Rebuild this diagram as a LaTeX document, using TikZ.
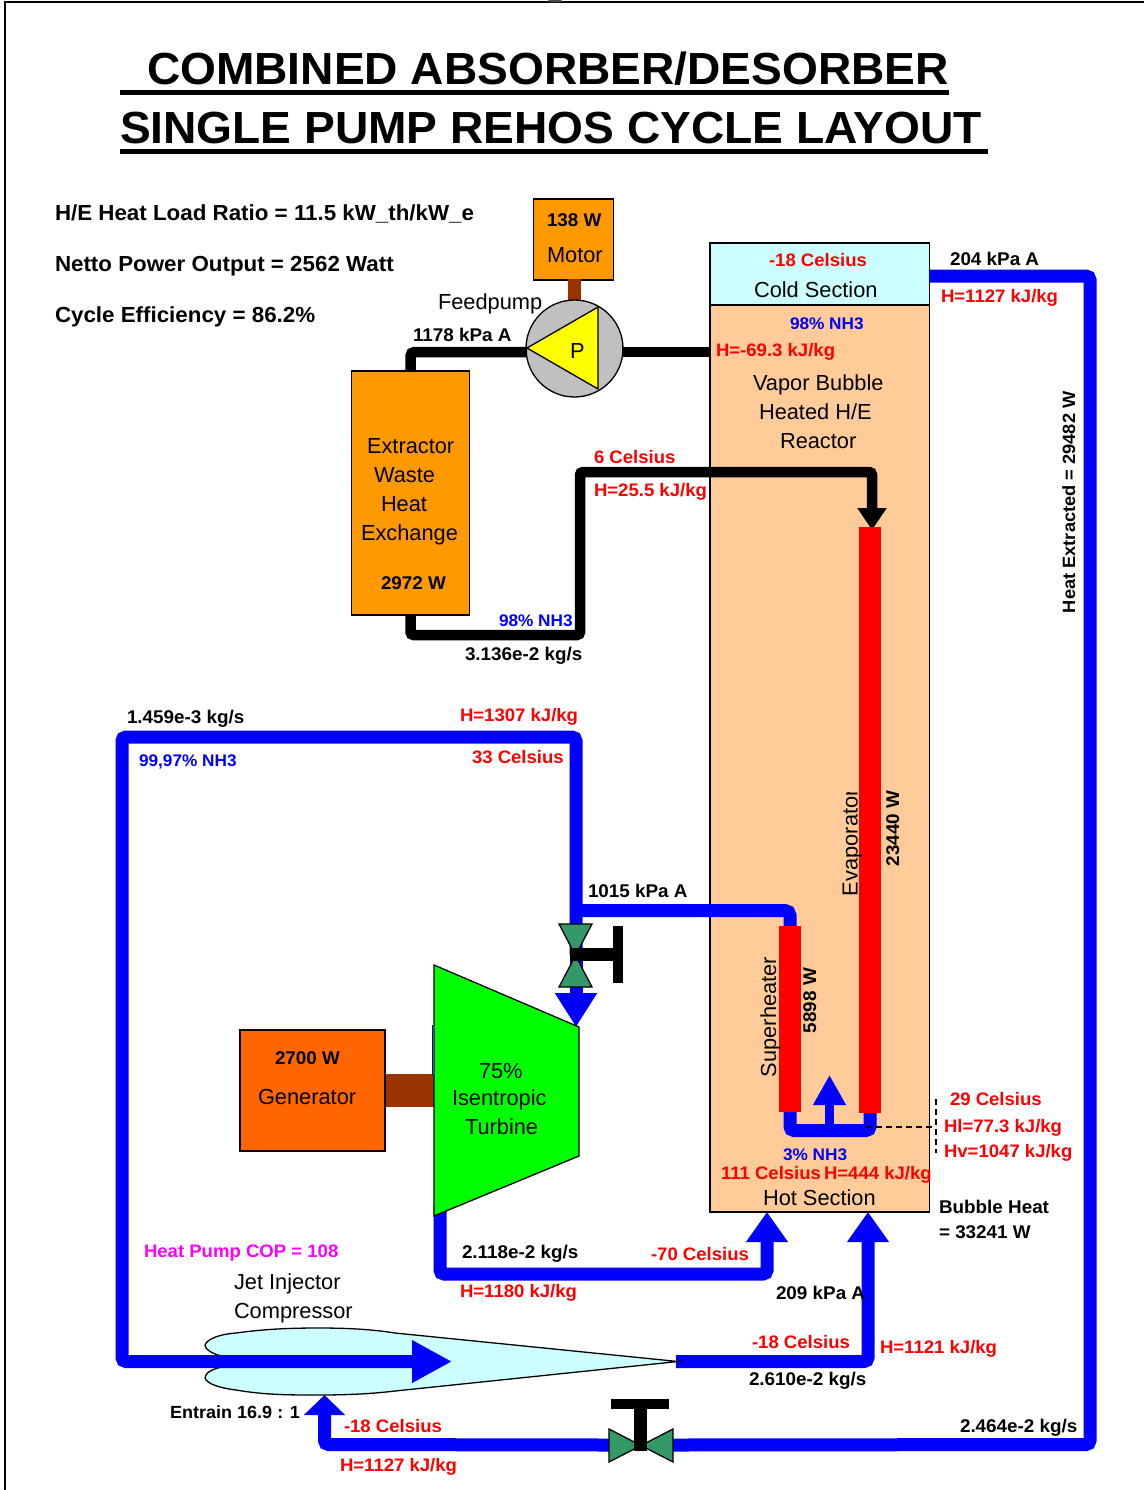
\documentclass[tikz,border=0pt]{standalone}
\usepackage{fontspec}
\setmainfont{Liberation Sans}[BoldFeatures={FakeStretch=1.025}]
\usetikzlibrary{arrows.meta}
\definecolor{coldc}{HTML}{CCFFFF}
\definecolor{hotc}{HTML}{FFCC99}
\definecolor{orng}{HTML}{FF9900}
\definecolor{gen}{HTML}{FF6600}
\definecolor{shaft}{HTML}{993300}
\definecolor{valv}{HTML}{339966}
\definecolor{pblue}{HTML}{0000FF}
\definecolor{pred}{HTML}{FF0000}
\definecolor{pmag}{HTML}{FF00FF}
\definecolor{pyel}{HTML}{FFFF00}
\definecolor{pgrn}{HTML}{00FF00}
\definecolor{pgry}{HTML}{C0C0C0}
\tikzset{
  equip/.style={draw=black,line width=1.3pt,inner sep=0pt,outer sep=0pt},
  lab/.style={anchor=base west,inner sep=0pt,outer sep=0pt},
  plain/.style={lab,font=\fontsize{21.8}{24}\selectfont,text=black},
  bold/.style={lab,font=\fontsize{18.4}{20}\selectfont\bfseries,text=black},
  big/.style={lab,font=\fontsize{21.8}{24}\selectfont\bfseries,text=black},
  rlab/.style={lab,font=\fontsize{18.1}{20}\selectfont\bfseries,text=pred},
  blab/.style={lab,font=\fontsize{16.8}{19}\selectfont\bfseries,text=pblue},
  title/.style={lab,font=\fontsize{45}{48}\selectfont\bfseries,text=black},
  bpipe/.style={draw=pblue,line width=13pt,rounded corners=4pt},
  kpipe/.style={draw=black,line width=10.5pt,rounded corners=3pt},
  blueTip/.style={-{Triangle[length=#1pt,width=40pt]}},
}
\begin{document}
\begin{tikzpicture}[x=1pt,y=-1pt]
\useasboundingbox (0,0) rectangle (1144,1490);
% frame
\coordinate (fa) at (5,1490); \coordinate (fb) at (5,2); \coordinate (fc) at (1144,2);
\draw[line width=1.5pt] (fa) -- (fb) -- (fc);
\fill[black!70] (555,1) ellipse (7 and 1.5);
% title
\node[title] (t1) at (147,85) {COMBINED ABSORBER/DESORBER};
\node[title] (t2) at (120,144) {SINGLE PUMP REHOS CYCLE LAYOUT};
\fill (120,90.5) rectangle (949,95.5);
\fill (120,149.5) rectangle (988,154.5);
% header labels
\node[big] (h1) at (55,220) {H/E Heat Load Ratio = 11.5 kW\_th/kW\_e};
\node[big] (h2) at (55,271) {Netto Power Output = 2562 Watt};
\node[big] (h3) at (55,322) {Cycle Efficiency = 86.2\%};
% reactor
\node[equip,fill=hotc,minimum width=219.5pt,minimum height=907pt] (reactor) at (819.75,758.5) {};
\node[equip,fill=coldc,minimum width=219.5pt,minimum height=62pt] (cold) at (819.75,274) {};
% named pipe points
\coordinate (pl) at (527,352); \coordinate (pr) at (622,352);
\coordinate (pre) at (710,352);
\coordinate (coldout) at (929,276);
\coordinate (evapin) at (872,530);
% extractor + motor
\node[equip,fill=orng,minimum width=118.5pt,minimum height=244pt] (extractor) at (410.5,493) {};
\node[equip,fill=orng,minimum width=80pt,minimum height=81pt] (motor) at (573.5,239.5) {};
\node[draw=none,fill=shaft,minimum width=13pt,minimum height=22pt,inner sep=0pt] (mshaft) at (574.5,290) {};
% pump
\node[equip,circle,fill=pgry,minimum size=97pt] (pump) at (574.5,348.5) {};
\draw[equip,fill=pyel,line join=round] (527,348) -- (598,307) -- (598,389) -- cycle;
\draw[kpipe,rounded corners=4pt] (pl) -- (410.5,352) -- (extractor.north);
\draw[kpipe] (pr) -- (pre);
\draw[kpipe,-{Triangle[length=22pt,width=28pt]}] (extractor.south) -- (410.5,635) -- (580,635) -- (580,472) -- (872,472) -- (evapin);
% heat extracted pipe
\coordinate (entrain) at (324.5,1395);
\coordinate (v2r) at (673,1445);
\coordinate (v2l) at (609,1445);
\draw[bpipe] (coldout) -- (1090,276) -- (1090,1444.5) -- (v2r);
\draw[bpipe,blueTip=20] (v2l) -- (324.5,1444.5) -- (entrain);
% turbine exhaust
\node[draw=none,fill=shaft,minimum width=50pt,minimum height=33pt,inner sep=0pt] (tshaft) at (409.5,1090.5) {};
\coordinate (hotin1) at (767,1212);
\coordinate (hotin2) at (868,1212);
\draw[bpipe,blueTip=30] (440,1205) -- (440,1274) -- (767,1274) -- (hotin1);
% vapor lines
\coordinate (turbin) at (576,1027);
\coordinate (jetin) at (452,1361.5);
\coordinate (shin) at (790,930);
\coordinate (jettip) at (676,1361.5);
\coordinate (vmid) at (576,955);
\draw[bpipe,-{Triangle[length=34pt,width=40pt]}] (vmid) -- (turbin);
\draw[bpipe,rounded corners=5pt] (576,910.5) -- (790,910.5) -- (shin);
\draw[bpipe,blueTip=30] (jettip) -- (868,1361.5) -- (hotin2);
% jet
\draw[equip,fill=coldc] (222,1356) .. controls (212,1354) and (205,1349) .. (205,1345)
  .. controls (207,1339) and (220,1334) .. (236,1333)
  .. controls (265,1329) and (290,1328) .. (318,1328)
  .. controls (345,1328) and (370,1329) .. (395,1333)
  -- (678,1361.5) -- (395,1391)
  .. controls (370,1394) and (345,1395) .. (318,1395)
  .. controls (290,1395) and (265,1395) .. (236,1390)
  .. controls (220,1388) and (207,1384) .. (205,1378)
  .. controls (205,1373) and (212,1369) .. (222,1367);
\draw[bpipe,-{Triangle[length=40pt,width=40pt]}] (vmid) -- (576,737) -- (122,737) -- (122,1361.5) -- (jetin);
% valve 1
\draw[equip,fill=valv] (559,924) -- (592,924) -- (559,987) -- (592,987) -- cycle;
\fill (570,948) rectangle (613,961);
\fill (613,926) rectangle (623,983);
% valve 2
\draw[equip,fill=valv] (609,1429) -- (673,1462) -- (673,1429) -- (609,1462) -- cycle;
\fill (634,1409) rectangle (646.5,1451);
\fill (611,1399) rectangle (669,1409);
% generator and turbine
\node[equip,fill=gen,minimum width=145pt,minimum height=121pt] (generator) at (312.5,1090.5) {};
\draw[draw=pblue,line width=1.5pt] (432.5,1025) -- (432.5,1075);
\draw[equip,fill=pgrn] (434,965) -- (579,1027) -- (579,1156) -- (434,1216) -- cycle;
% hot section internals
\coordinate (u1) at (790,1105); \coordinate (u2) at (870,1105); \coordinate (u3) at (829.5,1130);
\draw[bpipe] (u1) -- (790,1130.5) -- (870,1130.5) -- (u2);
\draw[draw=pblue,line width=9pt,-{Triangle[length=30pt,width=31pt]}] (u3) -- (829.5,1075);
% heater bars
\node[fill=pred,minimum width=22pt,minimum height=186pt,inner sep=0pt] (sheater) at (790,1019) {};
\node[fill=pred,minimum width=22pt,minimum height=586pt,inner sep=0pt] (eheater) at (870,820) {};
% rotated text
\begin{scope}
\clip (830,792) rectangle (870,900);
\node[plain,rotate=90] (evap) at (857.5,896) {Evaporator};
\end{scope}
\node[plain,rotate=90] (super) at (776,1077) {Superheater};
\node[bold,rotate=90] (w1) at (899,866) {23440 W};
\node[bold,rotate=90] (w2) at (816,1033) {5898 W};
\node[bold,rotate=90,font=\fontsize{17.8}{20}\selectfont\bfseries] (w3) at (1075,613) {Heat Extracted = 29482 W};
% dashed
\coordinate (d1) at (866,1127); \coordinate (d2) at (936,1127);
\coordinate (d3) at (936,1099); \coordinate (d4) at (936,1153);
\draw[line width=1.2pt,dash pattern=on 6pt off 4pt] (d1) -- (d2);
\draw[line width=1.2pt,dash pattern=on 6pt off 4pt] (d3) -- (d4);
% texts
\node[bold] (a1) at (547,226) {138 W};
\node[plain] (a2) at (547,262) {Motor};
\node[plain] (a3) at (438,309) {Feedpump};
\node[bold] (a4) at (413,341) {1178 kPa A};
\node[rlab] (a5) at (769,266) {-18 Celsius};
\node[plain] (a6) at (754,297) {Cold Section};
\node[bold] (a7) at (950,265) {204 kPa A};
\node[rlab] (a8) at (941,302) {H=1127 kJ/kg};
\node[blab] (a9) at (790,329) {98\% NH3};
\node[rlab] (a10) at (716,356) {H=-69.3 kJ/kg};
\node[plain] (a11) at (753,390) {Vapor Bubble};
\node[plain] (a12) at (759,419) {Heated H/E};
\node[plain] (a13) at (780,448) {Reactor};
\node[plain] (b1) at (367,453) {Extractor};
\node[plain] (b2) at (374,482) {Waste};
\node[plain] (b3) at (381,511) {Heat};
\node[plain] (b4) at (361,540) {Exchange};
\node[bold] (b5) at (381,589) {2972 W};
\node[rlab] (b6) at (594,463) {6 Celsius};
\node[rlab] (b7) at (594,496) {H=25.5 kJ/kg};
\node[blab] (b8) at (499,626) {98\% NH3};
\node[bold] (b9) at (465,660) {3.136e-2 kg/s};
\node[bold] (c1) at (127,723) {1.459e-3 kg/s};
\node[rlab] (c2) at (460,721) {H=1307 kJ/kg};
\node[blab] (c3) at (139,766) {99,97\% NH3};
\node[rlab] (c4) at (472,763) {33 Celsius};
\node[bold] (c5) at (588,897) {1015 kPa A};
\node[bold] (d5) at (275,1064) {2700 W};
\node[plain] (d6) at (258,1104) {Generator};
\node[plain] (d7) at (479,1078) {75\%};
\node[plain] (d8) at (452,1105) {Isentropic};
\node[plain] (d9) at (465,1134) {Turbine};
\node[rlab] (e1) at (950,1105) {29 Celsius};
\node[rlab] (e2) at (944,1132) {Hl=77.3 kJ/kg};
\node[rlab] (e3) at (944,1157) {Hv=1047 kJ/kg};
\node[blab] (e4) at (783,1160) {3\% NH3};
\node[rlab] (e5) at (721,1179) {111 Celsius};
\node[rlab] (e6) at (824,1179) {H=444 kJ/kg};
\node[plain] (e7) at (763,1205) {Hot Section};
\node[bold] (e8) at (939,1213) {Bubble Heat};
\node[bold] (e9) at (939,1238) {= 33241 W};
\node[bold] (f1) at (462,1258) {2.118e-2 kg/s};
\node[rlab] (f2) at (651,1260) {-70 Celsius};
\node[rlab] (f3) at (460,1297) {H=1180 kJ/kg};
\node[bold] (f4) at (776,1299) {209 kPa A};
\node[rlab,text=pmag] (f5) at (144,1257) {Heat Pump COP = 108};
\node[plain] (f6) at (234,1289) {Jet Injector};
\node[plain] (f7) at (234,1318) {Compressor};
\node[rlab] (g1) at (752,1348) {-18 Celsius};
\node[rlab] (g2) at (880,1353) {H=1121 kJ/kg};
\node[bold] (g3) at (749,1385) {2.610e-2 kg/s};
\node[bold,font=\fontsize{17.6}{20}\selectfont\bfseries] (g4) at (170,1418) {Entrain 16.9 : 1};
\node[rlab] (g5) at (344,1432) {-18 Celsius};
\node[rlab] (g6) at (340,1471) {H=1127 kJ/kg};
\node[bold] (g7) at (960,1432) {2.464e-2 kg/s};
\node[plain] (p) at (570,358) {P};
\end{tikzpicture}
\end{document}
